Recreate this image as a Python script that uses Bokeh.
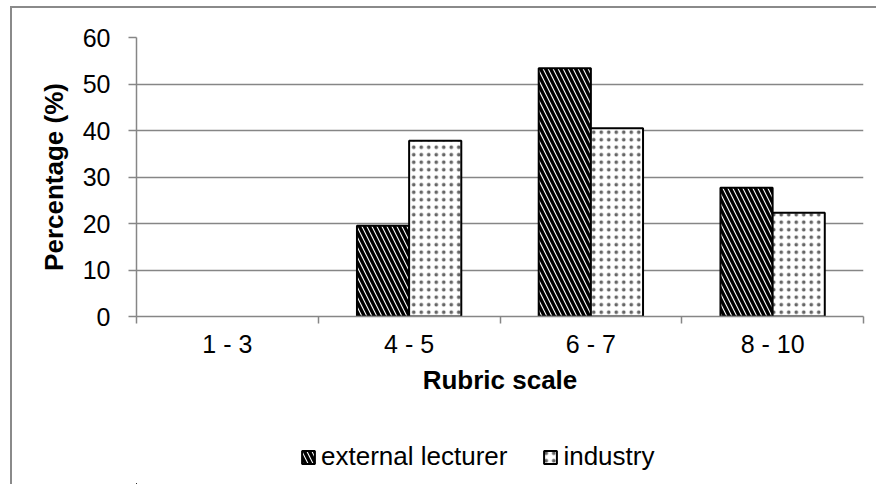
from bokeh.plotting import figure
from bokeh.models import Range1d, FixedTicker, ColumnDataSource, Legend, LegendItem
from bokeh.layouts import column
from bokeh.embed import file_html
from bokeh.resources import INLINE
import numpy as np

categories = ["1 - 3", "4 - 5", "6 - 7", "8 - 10"]
external_lecturer = [0, 19.5, 53.4, 27.7]
industry = [0, 37.8, 40.5, 22.3]
y_ticks = [0, 10, 20, 30, 40, 50, 60]
series_names = ["external lecturer", "industry"]

FONT = "Liberation Sans"
GRAY = "#868686"
FS = "25px"
FS_T = "26px"
BORDER = "2px solid #8a8a8a"

EXT_STYLE = dict(fill_color="white", line_color="black", line_width=2,
                 hatch_pattern="\\", hatch_color="black", hatch_scale=10, hatch_weight=3.4)
IND_STYLE = dict(fill_color="white", line_color="black", line_width=2,
                 hatch_pattern=".", hatch_color="#666666", hatch_scale=7.5, hatch_weight=1.5)

p = figure(frame_width=725, frame_height=277, output_backend="svg", toolbar_location=None,
           x_range=Range1d(0, len(categories)), y_range=Range1d(0, 60),
           min_border_left=124, min_border_top=29, min_border_right=15, min_border_bottom=120)
p.margin = (6, 0, 0, 10)
p.styles = {"border-left": BORDER, "border-top": BORDER}
p.outline_line_color = None
p.background_fill_color = "white"
p.border_fill_color = "white"

idx = np.arange(len(categories)) + 0.5
bar_w = 0.287
off = 0.1435
src = ColumnDataSource(dict(
    x1=idx - off, x2=idx + off, ext=external_lecturer, ind=industry,
    a1=[1.0 if v > 0 else 0.0 for v in external_lecturer],
    a2=[1.0 if v > 0 else 0.0 for v in industry]))

p.vbar(x="x1", top="ext", width=bar_w, source=src, line_alpha="a1", **EXT_STYLE)
p.vbar(x="x2", top="ind", width=bar_w, source=src, line_alpha="a2", **IND_STYLE)

# axes
p.xaxis.ticker = FixedTicker(ticks=list(idx), minor_ticks=list(range(len(categories) + 1)))
p.xaxis.major_label_overrides = {float(v): c for v, c in zip(idx, categories)}
p.xaxis.major_tick_out = 0
p.xaxis.major_tick_in = 0
p.xaxis.minor_tick_out = 7
p.xaxis.minor_tick_in = 0
p.xaxis.minor_tick_line_color = GRAY
p.xaxis.minor_tick_line_width = 1.5
p.xaxis.axis_line_color = GRAY
p.xaxis.axis_line_width = 1.5
p.xaxis.major_label_standoff = 6
p.xaxis.axis_label = "Rubric scale"
p.xaxis.axis_label_standoff = 4

p.yaxis.ticker = FixedTicker(ticks=y_ticks)
p.yaxis.major_tick_out = 8
p.yaxis.major_tick_in = 0
p.yaxis.major_tick_line_color = GRAY
p.yaxis.major_tick_line_width = 1.5
p.yaxis.minor_tick_line_color = None
p.yaxis.axis_line_color = GRAY
p.yaxis.axis_line_width = 1.5
p.yaxis.major_label_standoff = 18
p.yaxis.axis_label = "Percentage (%)"
p.yaxis.axis_label_standoff = 11

for ax in (p.xaxis[0], p.yaxis[0]):
    ax.major_label_text_font = FONT
    ax.major_label_text_font_size = FS
    ax.major_label_text_color = "black"
    ax.axis_label_text_font = FONT
    ax.axis_label_text_font_size = FS_T
    ax.axis_label_text_font_style = "bold"
    ax.axis_label_text_color = "black"

p.xgrid.grid_line_color = None
p.ygrid.grid_line_color = GRAY
p.ygrid.grid_line_width = 1.5

# legend strip below the chart (its ranges keep the bars out of view)
pl = figure(width=864, height=50, output_backend="svg", toolbar_location=None,
            x_range=Range1d(100, 101), y_range=Range1d(100, 101),
            x_axis_location=None, y_axis_location=None,
            min_border_left=0, min_border_right=0, min_border_top=0, min_border_bottom=0)
pl.margin = (0, 0, 0, 10)
pl.styles = {"border-left": BORDER}
pl.outline_line_color = None
pl.grid.visible = False
pl.background_fill_color = "white"
pl.border_fill_color = "white"
l1 = pl.vbar(x="x1", top="ext", width=bar_w, source=src, **EXT_STYLE)
l2 = pl.vbar(x="x2", top="ind", width=bar_w, source=src, **IND_STYLE)

legend = Legend(items=[LegendItem(label=series_names[0], renderers=[l1]),
                       LegendItem(label=series_names[1], renderers=[l2])],
                orientation="horizontal", location=(164, 12),
                glyph_width=16, glyph_height=16, label_standoff=5, spacing=35,
                padding=0, margin=0, border_line_color=None, background_fill_alpha=0,
                label_text_font=FONT, label_text_font_size=FS_T, label_text_color="black")
pl.add_layout(legend, "center")

open("out.html", "w").write(file_html(column(p, pl), INLINE))
